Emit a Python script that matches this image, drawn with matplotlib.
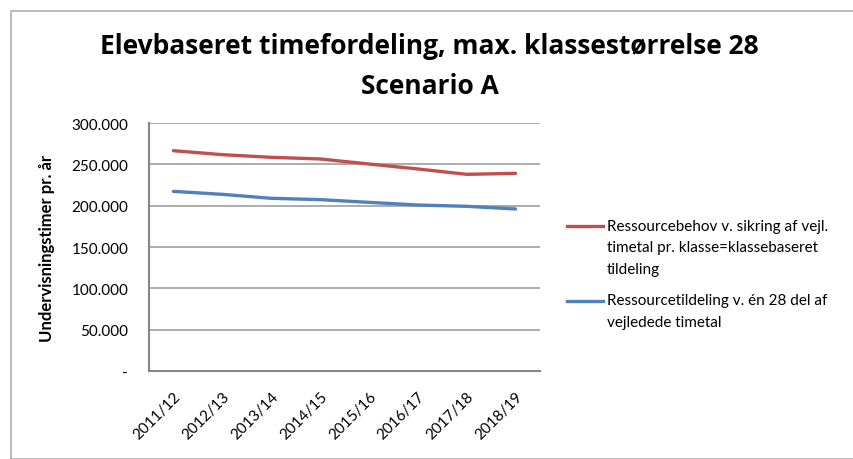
import matplotlib.pyplot as plt
from matplotlib.ticker import FuncFormatter
from matplotlib.patches import Rectangle
from matplotlib.lines import Line2D

years = ["2011/12", "2012/13", "2013/14", "2014/15", "2015/16", "2016/17", "2017/18", "2018/19"]
behov = [266500, 261700, 258500, 256500, 250400, 244400, 237900, 239100]
tildeling = [217300, 213700, 208900, 207300, 204000, 200800, 199200, 196000]

label_behov = ["Ressourcebehov v. sikring af vejl.", "timetal pr. klasse=klassebaseret", "tildeling"]
label_tild = ["Ressourcetildeling v. én 28 del af", "vejledede timetal"]

plt.rcParams['font.family'] = ['Lato', 'DejaVu Sans']

fig = plt.figure(figsize=(8.54, 4.6), dpi=100)
ax = fig.add_axes([149 / 854, 1 - 372 / 460, (540 - 149) / 854, (372 - 124) / 460])

x = range(len(years))
l1, = ax.plot(x, behov, color="#C0504D", lw=2.4, solid_capstyle="round")
l2, = ax.plot(x, tildeling, color="#4F81BD", lw=2.4, solid_capstyle="round")

ax.set_xlim(-0.5, len(years) - 0.5)
ax.set_ylim(0, 300000)
ax.set_yticks(range(0, 300001, 50000))
ax.yaxis.set_major_formatter(FuncFormatter(
    lambda v, p: "-" if v == 0 else f"{int(v):,}".replace(",", ".")))
ax.set_xticks(list(x))
ax.set_xticklabels(years, rotation=45, ha="right", rotation_mode="anchor")
ax.tick_params(axis="both", length=0, labelsize=11, colors="black")
ax.tick_params(axis="y", pad=15)
ax.tick_params(axis="x", pad=13)

ax.grid(axis="y", color="#a6a6a6", lw=1.3)
ax.set_axisbelow(True)
for s in ["top", "right"]:
    ax.spines[s].set_visible(False)
for s in ["left", "bottom"]:
    ax.spines[s].set_color("#868686")
    ax.spines[s].set_linewidth(1.5)

ax.set_ylabel("Undervisningstimer pr. år", fontsize=12, fontweight="bold")
ax.yaxis.set_label_coords(-0.24, 0.5)

fig.text(0.503, 1 - 46 / 460, "Elevbaseret timefordeling, max. klassestørrelse 28",
         ha="center", va="center", fontsize=19, fontweight="bold", family="Open Sans")
fig.text(0.503, 1 - 87 / 460, "Scenario A", ha="center", va="center",
         fontsize=19, fontweight="bold", family="Open Sans")

# legend, Excel style: the line sits beside the first text line
for line, lines, y0 in [(l1, label_behov, 226.7), (l2, label_tild, 301.5)]:
    fig.add_artist(Line2D([567 / 854, 603 / 854], [1 - y0 / 460] * 2,
                          color=line.get_color(), lw=line.get_linewidth()))
    for i, t in enumerate(lines):
        fig.text(607 / 854, 1 - (y0 + i * 21.7) / 460, t, va="center", fontsize=11)

fig.patches.append(Rectangle((11 / 854, 0), 1, 1 - 12 / 460, transform=fig.transFigure,
                             fill=False, edgecolor="#b0b0b0", lw=1.2))

fig.savefig("out.png", dpi=100)
